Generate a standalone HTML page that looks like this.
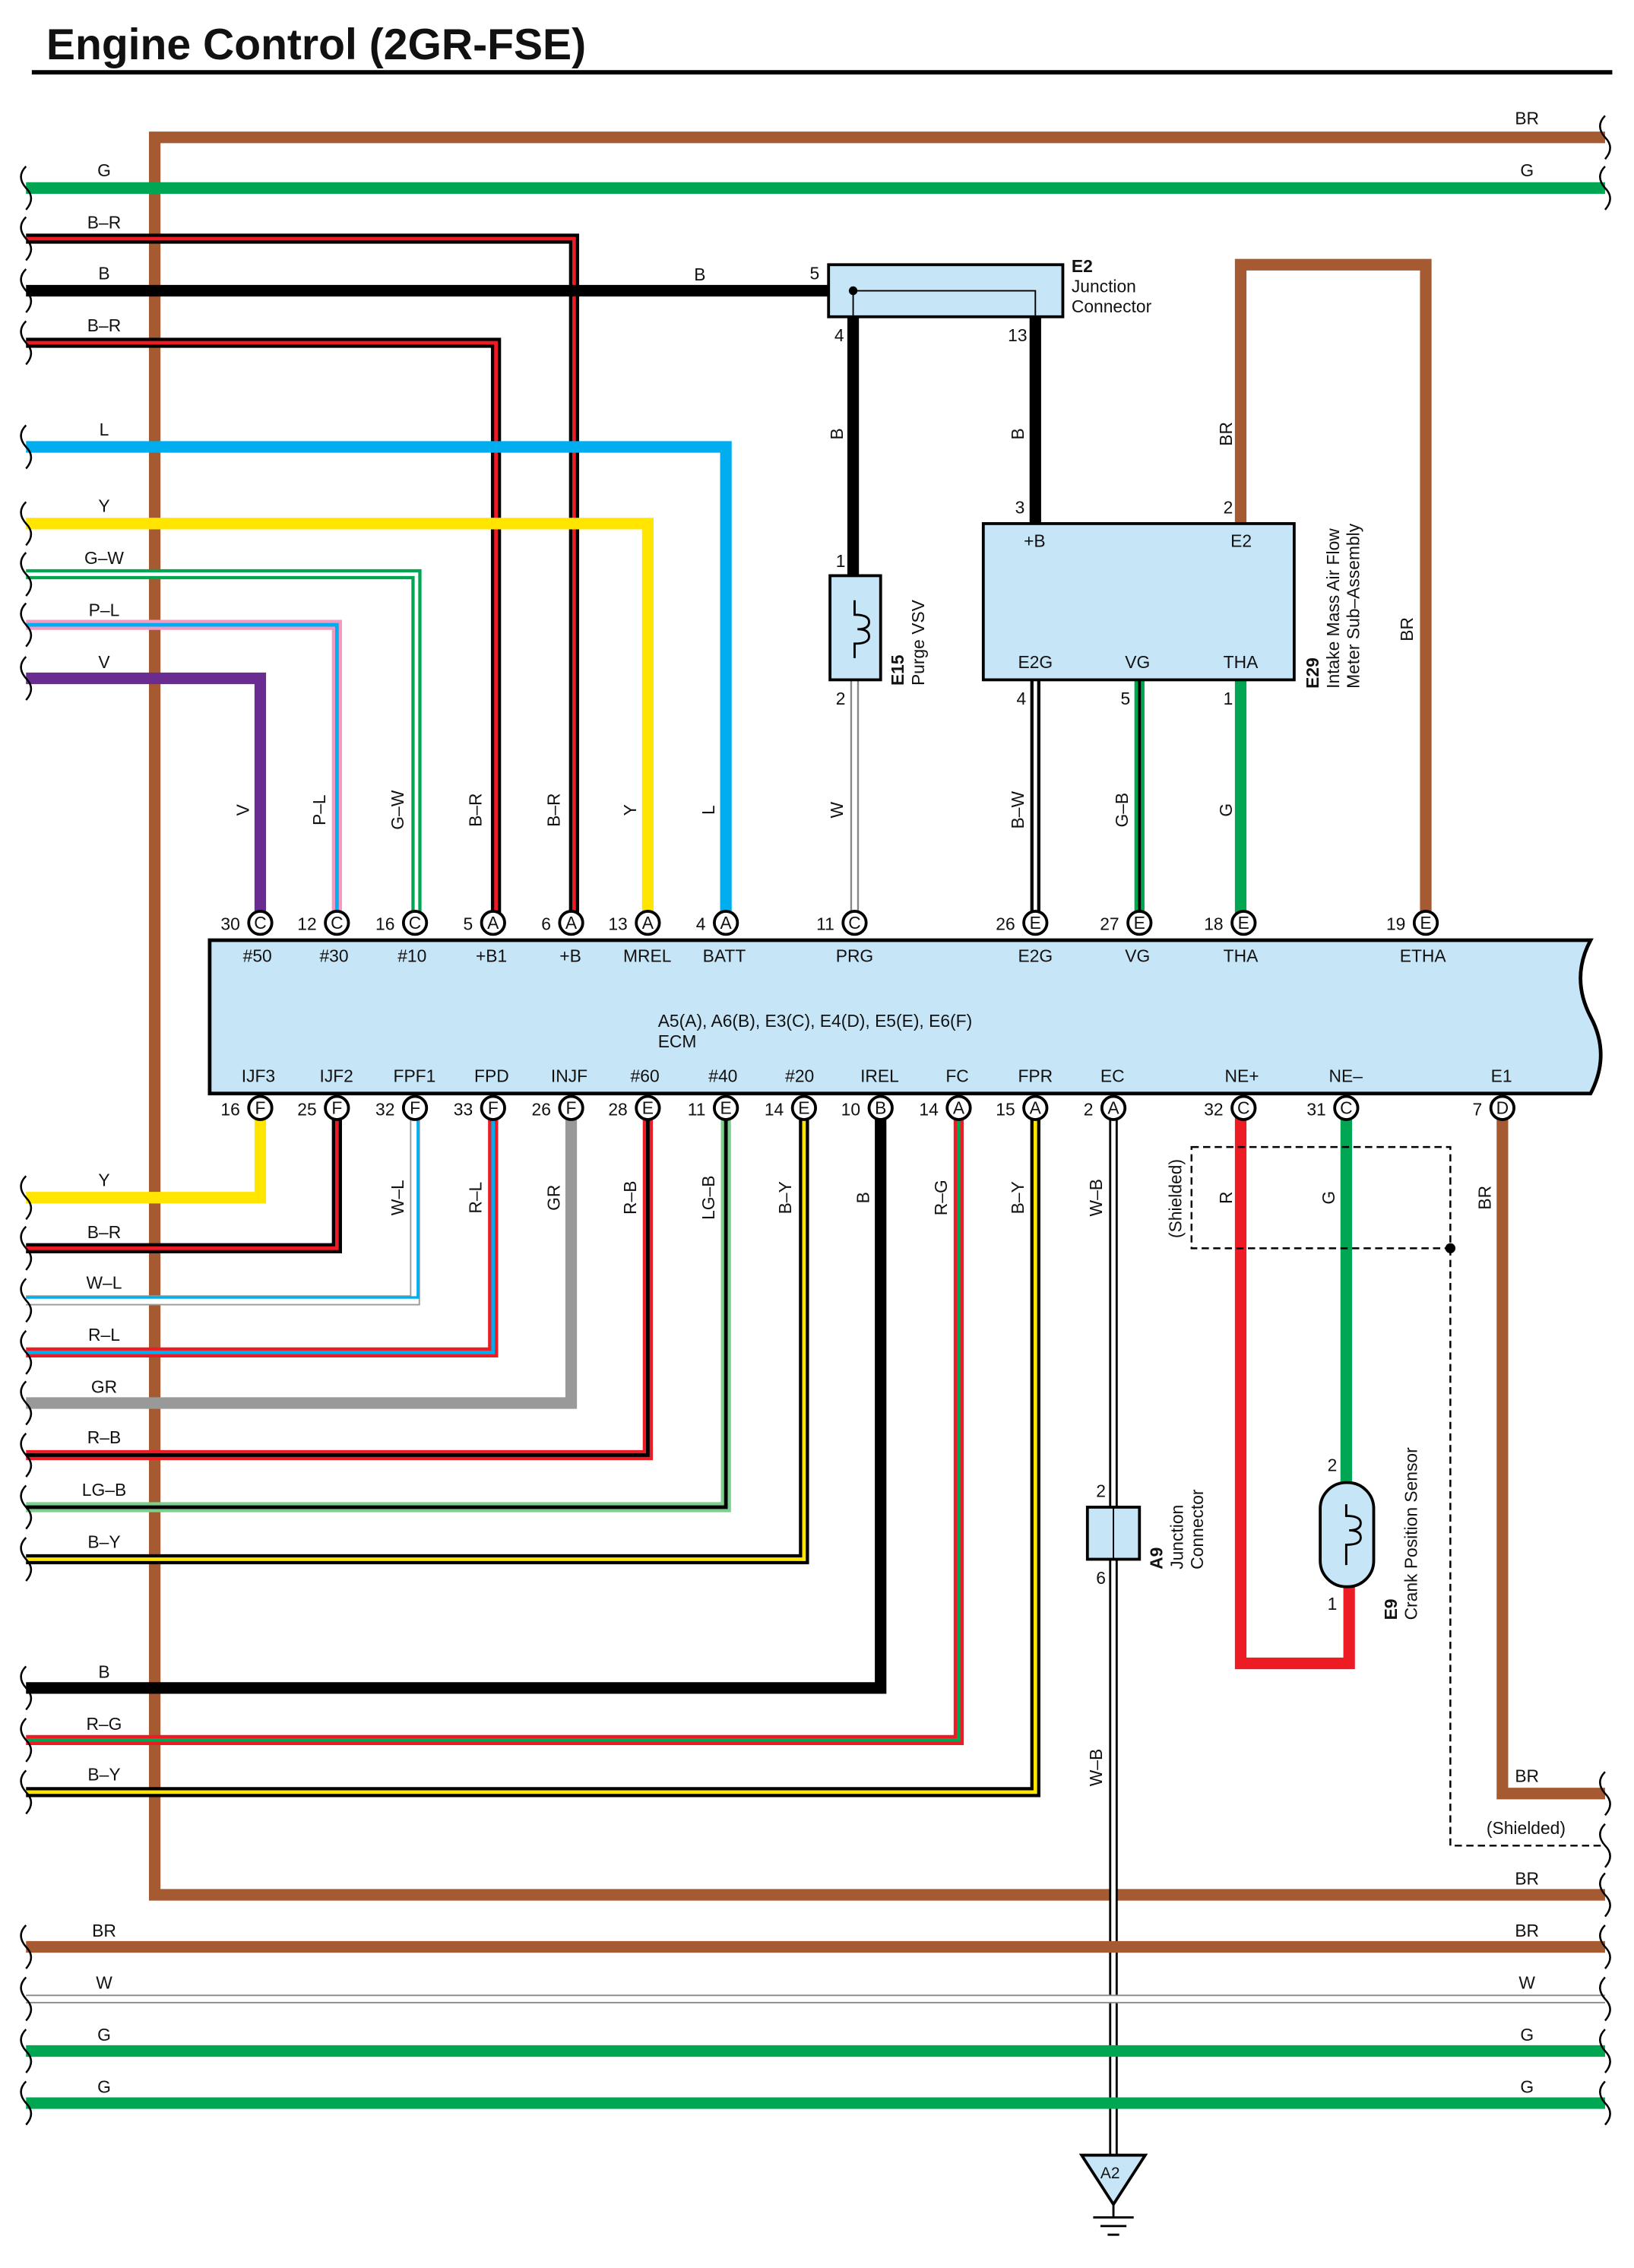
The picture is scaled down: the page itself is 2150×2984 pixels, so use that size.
<!DOCTYPE html>
<html><head><meta charset="utf-8"><style>
html,body{margin:0;padding:0;background:#fff}
svg{display:block}
text{font-family:"Liberation Sans",sans-serif;font-size:12px;fill:#111}
.p{fill:none;stroke-linejoin:miter;stroke-linecap:butt}
</style></head><body>
<svg width="2150" height="2984" viewBox="0 0 1130 1568" preserveAspectRatio="none" xmlns="http://www.w3.org/2000/svg">
<defs>
<g id="sq"><path d="M0,-15 q-7,7 0,15 q7,7 0,15" fill="none" stroke="#000" stroke-width="1.3"/></g>
</defs>
<text x="32" y="41" style="font-size:30px;font-weight:bold">Engine Control (2GR-FSE)</text>
<line x1="22" y1="50" x2="1115" y2="50" stroke="#000" stroke-width="3"/>

<!-- top wires -->
<path class="p" d="M1110,95 H107 V1310 H1110" stroke="#a65a32" stroke-width="8"/>
<path class="p" d="M18,130 H1110" stroke="#00a651" stroke-width="8"/>
<path class="p" d="M18,165 H397 V638" stroke="#000" stroke-width="7"/><path class="p" d="M18,165 H397 V638" stroke="#ed1c24" stroke-width="2.5"/>
<path class="p" d="M18,201 H590" stroke="#000" stroke-width="8"/>
<path class="p" d="M18,237 H343 V638" stroke="#000" stroke-width="7"/><path class="p" d="M18,237 H343 V638" stroke="#ed1c24" stroke-width="2.5"/>
<path class="p" d="M18,309 H502 V638" stroke="#00aeef" stroke-width="8"/>
<path class="p" d="M18,362 H448 V638" stroke="#ffe500" stroke-width="8"/>
<path class="p" d="M18,397 H288 V638" stroke="#00a651" stroke-width="7"/><path class="p" d="M18,397 H288 V638" stroke="#fff" stroke-width="2.5"/>
<path class="p" d="M18,432 H233 V638" stroke="#f49ac1" stroke-width="7"/><path class="p" d="M18,432 H233 V638" stroke="#00aeef" stroke-width="2.5"/>
<path class="p" d="M18,469 H180 V638" stroke="#6a2c91" stroke-width="8"/>

<!-- E2 connector -->
<path class="p" d="M590,219 V400" stroke="#000" stroke-width="8"/>
<path class="p" d="M716,219 V362" stroke="#000" stroke-width="8"/>
<rect x="573" y="183" width="162" height="36" fill="#c6e6f8" stroke="#000" stroke-width="2"/>
<path class="p" d="M590,201 H716 V219 M590,201 V219" stroke="#000" stroke-width="1"/>
<circle cx="590" cy="201" r="3" fill="#000"/>
<text x="560" y="193">5</text><text x="577" y="236">4</text><text x="697" y="236">13</text>
<text x="741" y="188" style="font-weight:bold">E2</text><text x="741" y="202">Junction</text><text x="741" y="216">Connector</text>
<text x="480" y="194">B</text>

<!-- E15 -->
<path class="p" d="M591,470 V638" stroke="#888" stroke-width="6"/><path class="p" d="M591,470 V638" stroke="#fff" stroke-width="3.5"/>
<rect x="574" y="398" width="35" height="72" fill="#c6e6f8" stroke="#000" stroke-width="2"/>
<path class="p" d="M591,415 V425 q10,0 10,5 q0,5 -8,5 q8,0 8,5 q0,5 -10,5 V455" stroke="#000" stroke-width="1.5"/>
<text x="578" y="392">1</text><text x="578" y="487">2</text>
<text transform="translate(625,474) rotate(-90)" style="font-weight:bold">E15</text>
<text transform="translate(639,474) rotate(-90)">Purge VSV</text>

<!-- E29 -->
<path class="p" d="M858,362 V183 H986 V638" stroke="#a65a32" stroke-width="8"/>
<path class="p" d="M716,470 V638" stroke="#000" stroke-width="7"/><path class="p" d="M716,470 V638" stroke="#fff" stroke-width="2.5"/>
<path class="p" d="M788,470 V638" stroke="#00a651" stroke-width="7"/><path class="p" d="M788,470 V638" stroke="#000" stroke-width="2"/>
<path class="p" d="M858,470 V638" stroke="#00a651" stroke-width="8"/>
<rect x="680" y="362" width="215" height="108" fill="#c6e6f8" stroke="#000" stroke-width="2"/>
<text x="708" y="378">+B</text><text x="851" y="378">E2</text>
<text x="704" y="462">E2G</text><text x="778" y="462">VG</text><text x="846" y="462">THA</text>
<text x="702" y="355">3</text><text x="846" y="355">2</text>
<text x="703" y="487">4</text><text x="775" y="487">5</text><text x="846" y="487">1</text>
<text transform="translate(912,476) rotate(-90)" style="font-weight:bold">E29</text>
<text transform="translate(926,476) rotate(-90)">Intake Mass Air Flow</text>
<text transform="translate(940,476) rotate(-90)">Meter Sub–Assembly</text>

<!-- bottom wires -->
<path class="p" d="M180,766 V828 H18" stroke="#ffe500" stroke-width="8"/>
<path class="p" d="M233,766 V863 H18" stroke="#000" stroke-width="7"/><path class="p" d="M233,766 V863 H18" stroke="#ed1c24" stroke-width="2.5"/>
<path class="p" d="M287,766 V899 H18" stroke="#999" stroke-width="7"/><path class="p" d="M287,766 V899 H18" stroke="#fff" stroke-width="5"/><path class="p" d="M289,766 V897 H18" stroke="#00aeef" stroke-width="1.8"/>
<path class="p" d="M341,766 V935 H18" stroke="#ed1c24" stroke-width="7"/><path class="p" d="M341,766 V935 H18" stroke="#00aeef" stroke-width="2.5"/>
<path class="p" d="M395,766 V970 H18" stroke="#999" stroke-width="8"/>
<path class="p" d="M448,766 V1006 H18" stroke="#ed1c24" stroke-width="7"/><path class="p" d="M448,766 V1006 H18" stroke="#000" stroke-width="2.5"/>
<path class="p" d="M502,766 V1042 H18" stroke="#7dcf8f" stroke-width="7"/><path class="p" d="M502,766 V1042 H18" stroke="#000" stroke-width="2.5"/>
<path class="p" d="M556,766 V1078 H18" stroke="#000" stroke-width="7"/><path class="p" d="M556,766 V1078 H18" stroke="#ffe500" stroke-width="2.5"/>
<path class="p" d="M609,766 V1167 H18" stroke="#000" stroke-width="8"/>
<path class="p" d="M663,766 V1203 H18" stroke="#ed1c24" stroke-width="7"/><path class="p" d="M663,766 V1203 H18" stroke="#00a651" stroke-width="2.5"/>
<path class="p" d="M716,766 V1239 H18" stroke="#000" stroke-width="7"/><path class="p" d="M716,766 V1239 H18" stroke="#ffe500" stroke-width="2.5"/>
<path class="p" d="M770,766 V1490" stroke="#000" stroke-width="6"/><path class="p" d="M770,766 V1490" stroke="#fff" stroke-width="3"/>
<path class="p" d="M858,766 V1150 H933 V1097" stroke="#ed1c24" stroke-width="8"/>
<path class="p" d="M931,766 V1025" stroke="#00a651" stroke-width="8"/>
<path class="p" d="M1039,766 V1240 H1110" stroke="#a65a32" stroke-width="8"/>
<rect x="824" y="793" width="179" height="70" fill="none" stroke="#000" stroke-width="1.3" stroke-dasharray="5,3"/>
<path class="p" d="M1003,863 V1276 H1110" stroke="#000" stroke-width="1.3" stroke-dasharray="5,3"/>
<circle cx="1003" cy="863" r="3.5" fill="#000"/>
<text x="1028" y="1268">(Shielded)</text>
<text transform="translate(817,856) rotate(-90)">(Shielded)</text>

<!-- A9 -->
<rect x="752" y="1042" width="36" height="36" fill="#c6e6f8" stroke="#000" stroke-width="2"/>
<line x1="770" y1="1042" x2="770" y2="1078" stroke="#000" stroke-width="1"/>
<text x="758" y="1035">2</text><text x="758" y="1095">6</text>
<text transform="translate(804,1085) rotate(-90)" style="font-weight:bold">A9</text>
<text transform="translate(818,1085) rotate(-90)">Junction</text>
<text transform="translate(832,1085) rotate(-90)">Connector</text>
<!-- E9 -->
<rect x="913" y="1025" width="37" height="72" rx="18" fill="#c6e6f8" stroke="#000" stroke-width="2"/>
<path class="p" d="M931,1040 V1048 q10,0 10,5 q0,5 -8,5 q8,0 8,5 q0,5 -10,5 V1082" stroke="#000" stroke-width="1.5"/>
<text x="918" y="1017">2</text><text x="918" y="1113">1</text>
<text transform="translate(966,1120) rotate(-90)" style="font-weight:bold">E9</text>
<text transform="translate(980,1120) rotate(-90)">Crank Position Sensor</text>
<!-- ground -->
<path d="M748,1490 H792 L770,1524 Z" fill="#c6e6f8" stroke="#000" stroke-width="2"/>
<text x="761" y="1506" style="font-size:11px">A2</text>
<path class="p" d="M770,1524 V1533 M756,1533 H784 M761,1539 H779 M766,1545 H774" stroke="#000" stroke-width="1.5"/>

<!-- bottom buses -->
<path class="p" d="M18,1346 H1110" stroke="#a65a32" stroke-width="8"/>
<path class="p" d="M18,1382 H1110" stroke="#888" stroke-width="6"/><path class="p" d="M18,1382 H1110" stroke="#fff" stroke-width="4"/>
<path class="p" d="M18,1418 H1110" stroke="#00a651" stroke-width="8"/>
<path class="p" d="M18,1454 H1110" stroke="#00a651" stroke-width="8"/>

<!-- ECM -->
<path d="M145,650 H1100 q-14,26 0,53 q14,26 0,53 H145 Z" fill="#c6e6f8" stroke="#000" stroke-width="2.5"/>
<text x="455" y="710">A5(A), A6(B), E3(C), E4(D), E5(E), E6(F)</text>
<text x="455" y="724">ECM</text>
<g style="font-size:12px">
<text x="168" y="665">#50</text><text x="221" y="665">#30</text><text x="275" y="665">#10</text><text x="329" y="665">+B1</text><text x="387" y="665">+B</text><text x="431" y="665">MREL</text><text x="486" y="665">BATT</text><text x="578" y="665">PRG</text><text x="704" y="665">E2G</text><text x="778" y="665">VG</text><text x="846" y="665">THA</text><text x="968" y="665">ETHA</text>
<text x="167" y="748">IJF3</text><text x="221" y="748">IJF2</text><text x="272" y="748">FPF1</text><text x="328" y="748">FPD</text><text x="381" y="748">INJF</text><text x="436" y="748">#60</text><text x="490" y="748">#40</text><text x="543" y="748">#20</text><text x="595" y="748">IREL</text><text x="654" y="748">FC</text><text x="704" y="748">FPR</text><text x="761" y="748">EC</text><text x="847" y="748">NE+</text><text x="919" y="748">NE–</text><text x="1031" y="748">E1</text>
</g>
<!-- pins top -->
<g fill="#fff" stroke="#000" stroke-width="2">
<circle cx="180" cy="638" r="8"/><circle cx="233" cy="638" r="8"/><circle cx="287" cy="638" r="8"/><circle cx="341" cy="638" r="8"/><circle cx="395" cy="638" r="8"/><circle cx="448" cy="638" r="8"/><circle cx="502" cy="638" r="8"/><circle cx="591" cy="638" r="8"/><circle cx="716" cy="638" r="8"/><circle cx="788" cy="638" r="8"/><circle cx="860" cy="638" r="8"/><circle cx="986" cy="638" r="8"/>
<circle cx="180" cy="766" r="8"/><circle cx="233" cy="766" r="8"/><circle cx="287" cy="766" r="8"/><circle cx="341" cy="766" r="8"/><circle cx="395" cy="766" r="8"/><circle cx="448" cy="766" r="8"/><circle cx="502" cy="766" r="8"/><circle cx="556" cy="766" r="8"/><circle cx="609" cy="766" r="8"/><circle cx="663" cy="766" r="8"/><circle cx="716" cy="766" r="8"/><circle cx="770" cy="766" r="8"/><circle cx="860" cy="766" r="8"/><circle cx="931" cy="766" r="8"/><circle cx="1039" cy="766" r="8"/>
</g>
<g style="font-size:11px" text-anchor="middle">
<text x="180" y="642">C</text><text x="233" y="642">C</text><text x="287" y="642">C</text><text x="341" y="642">A</text><text x="395" y="642">A</text><text x="448" y="642">A</text><text x="502" y="642">A</text><text x="591" y="642">C</text><text x="716" y="642">E</text><text x="788" y="642">E</text><text x="860" y="642">E</text><text x="986" y="642">E</text>
<text x="180" y="770">F</text><text x="233" y="770">F</text><text x="287" y="770">F</text><text x="341" y="770">F</text><text x="395" y="770">F</text><text x="448" y="770">E</text><text x="502" y="770">E</text><text x="556" y="770">E</text><text x="609" y="770">B</text><text x="663" y="770">A</text><text x="716" y="770">A</text><text x="770" y="770">A</text><text x="860" y="770">C</text><text x="931" y="770">C</text><text x="1039" y="770">D</text>
</g>
<g text-anchor="end">
<text x="166" y="643">30</text><text x="219" y="643">12</text><text x="273" y="643">16</text><text x="327" y="643">5</text><text x="381" y="643">6</text><text x="434" y="643">13</text><text x="488" y="643">4</text><text x="577" y="643">11</text><text x="702" y="643">26</text><text x="774" y="643">27</text><text x="846" y="643">18</text><text x="972" y="643">19</text>
<text x="166" y="771">16</text><text x="219" y="771">25</text><text x="273" y="771">32</text><text x="327" y="771">33</text><text x="381" y="771">26</text><text x="434" y="771">28</text><text x="488" y="771">11</text><text x="542" y="771">14</text><text x="595" y="771">10</text><text x="649" y="771">14</text><text x="702" y="771">15</text><text x="756" y="771">2</text><text x="846" y="771">32</text><text x="917" y="771">31</text><text x="1025" y="771">7</text>
</g>

<!-- left wire labels -->
<g text-anchor="middle">
<text x="72" y="122">G</text><text x="72" y="158">B–R</text><text x="72" y="193">B</text><text x="72" y="229">B–R</text><text x="72" y="301">L</text><text x="72" y="354">Y</text><text x="72" y="390">G–W</text><text x="72" y="426">P–L</text><text x="72" y="462">V</text>
<text x="72" y="820">Y</text><text x="72" y="856">B–R</text><text x="72" y="891">W–L</text><text x="72" y="927">R–L</text><text x="72" y="963">GR</text><text x="72" y="998">R–B</text><text x="72" y="1034">LG–B</text><text x="72" y="1070">B–Y</text>
<text x="72" y="1160">B</text><text x="72" y="1196">R–G</text><text x="72" y="1231">B–Y</text>
<text x="72" y="1339">BR</text><text x="72" y="1375">W</text><text x="72" y="1411">G</text><text x="72" y="1447">G</text>
<text x="1056" y="86">BR</text><text x="1056" y="122">G</text><text x="1056" y="1232">BR</text><text x="1056" y="1303">BR</text><text x="1056" y="1339">BR</text><text x="1056" y="1375">W</text><text x="1056" y="1411">G</text><text x="1056" y="1447">G</text>
</g>
<!-- vertical labels -->
<g text-anchor="middle">
<text transform="translate(172,560) rotate(-90)">V</text><text transform="translate(225,560) rotate(-90)">P–L</text><text transform="translate(279,560) rotate(-90)">G–W</text><text transform="translate(333,560) rotate(-90)">B–R</text><text transform="translate(387,560) rotate(-90)">B–R</text><text transform="translate(440,560) rotate(-90)">Y</text><text transform="translate(494,560) rotate(-90)">L</text><text transform="translate(583,560) rotate(-90)">W</text><text transform="translate(708,560) rotate(-90)">B–W</text><text transform="translate(780,560) rotate(-90)">G–B</text><text transform="translate(852,560) rotate(-90)">G</text>
<text transform="translate(583,300) rotate(-90)">B</text><text transform="translate(708,300) rotate(-90)">B</text><text transform="translate(852,300) rotate(-90)">BR</text><text transform="translate(977,435) rotate(-90)">BR</text>
<text transform="translate(279,828) rotate(-90)">W–L</text><text transform="translate(333,828) rotate(-90)">R–L</text><text transform="translate(387,828) rotate(-90)">GR</text><text transform="translate(440,828) rotate(-90)">R–B</text><text transform="translate(494,828) rotate(-90)">LG–B</text><text transform="translate(547,828) rotate(-90)">B–Y</text><text transform="translate(601,828) rotate(-90)">B</text><text transform="translate(655,828) rotate(-90)">R–G</text><text transform="translate(708,828) rotate(-90)">B–Y</text><text transform="translate(762,828) rotate(-90)">W–B</text><text transform="translate(852,828) rotate(-90)">R</text><text transform="translate(923,828) rotate(-90)">G</text><text transform="translate(1031,828) rotate(-90)">BR</text><text transform="translate(762,1222) rotate(-90)">W–B</text>
</g>

<!-- break marks -->
<g>
<use href="#sq" x="18" y="130"/><use href="#sq" x="18" y="165"/><use href="#sq" x="18" y="201"/><use href="#sq" x="18" y="237"/><use href="#sq" x="18" y="309"/><use href="#sq" x="18" y="362"/><use href="#sq" x="18" y="397"/><use href="#sq" x="18" y="432"/><use href="#sq" x="18" y="469"/>
<use href="#sq" x="18" y="828"/><use href="#sq" x="18" y="863"/><use href="#sq" x="18" y="899"/><use href="#sq" x="18" y="935"/><use href="#sq" x="18" y="970"/><use href="#sq" x="18" y="1006"/><use href="#sq" x="18" y="1042"/><use href="#sq" x="18" y="1078"/>
<use href="#sq" x="18" y="1167"/><use href="#sq" x="18" y="1203"/><use href="#sq" x="18" y="1239"/>
<use href="#sq" x="18" y="1346"/><use href="#sq" x="18" y="1382"/><use href="#sq" x="18" y="1418"/><use href="#sq" x="18" y="1454"/>
<use href="#sq" x="1110" y="95"/><use href="#sq" x="1110" y="130"/><use href="#sq" x="1110" y="1240"/><use href="#sq" x="1110" y="1276"/><use href="#sq" x="1110" y="1310"/><use href="#sq" x="1110" y="1346"/><use href="#sq" x="1110" y="1382"/><use href="#sq" x="1110" y="1418"/><use href="#sq" x="1110" y="1454"/>
</g>
</svg>
</body></html>
